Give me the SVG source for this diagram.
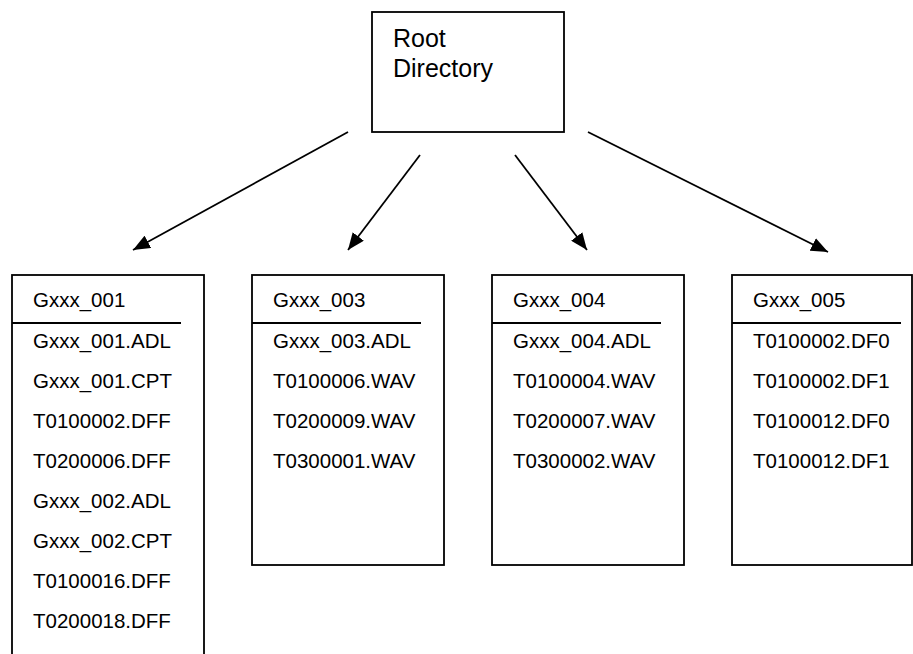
<svg xmlns="http://www.w3.org/2000/svg" width="913" height="654" viewBox="0 0 913 654">
<style>
text{font-family:"Liberation Sans",Arial,sans-serif;fill:#000}
.root{font-size:25px}
.t{font-size:20.5px}
.box{fill:#fff;stroke:#000;stroke-width:1.8}
.sep{stroke:#000;stroke-width:1.8}
.conn line{stroke:#000;stroke-width:1.8;marker-end:url(#ah)}
</style>
<defs>
<marker id="ah" markerUnits="userSpaceOnUse" markerWidth="18" markerHeight="14" refX="17" refY="7" orient="auto">
<path d="M0,0 L17,7 L0,14 z" fill="#000"/>
</marker>
</defs>
<rect width="913" height="654" fill="#fff"/>
<g id="root">
<rect class="box" x="372" y="12" width="192" height="120"/>
<text class="root" x="393" y="47">Root</text>
<text class="root" x="393" y="77">Directory</text>
</g>
<g class="conn" id="connectors">
<line x1="348" y1="132" x2="133" y2="250"/>
<line x1="420" y1="155" x2="348" y2="250"/>
<line x1="515" y1="155" x2="587" y2="250"/>
<line x1="588" y1="132" x2="828" y2="252"/>
</g>
<g id="g001">
<rect class="box" x="12" y="275" width="192" height="400"/>
<line class="sep" x1="12" y1="323" x2="181" y2="323"/>
<text class="t" x="33" y="307">Gxxx_001</text>
<text class="t" x="33" y="348">Gxxx_001.ADL</text>
<text class="t" x="33" y="388">Gxxx_001.CPT</text>
<text class="t" x="33" y="428">T0100002.DFF</text>
<text class="t" x="33" y="468">T0200006.DFF</text>
<text class="t" x="33" y="508">Gxxx_002.ADL</text>
<text class="t" x="33" y="548">Gxxx_002.CPT</text>
<text class="t" x="33" y="588">T0100016.DFF</text>
<text class="t" x="33" y="628">T0200018.DFF</text>
</g>
<g id="g003">
<rect class="box" x="252" y="275" width="192" height="290"/>
<line class="sep" x1="252" y1="323" x2="421" y2="323"/>
<text class="t" x="273" y="307">Gxxx_003</text>
<text class="t" x="273" y="348">Gxxx_003.ADL</text>
<text class="t" x="273" y="388">T0100006.WAV</text>
<text class="t" x="273" y="428">T0200009.WAV</text>
<text class="t" x="273" y="468">T0300001.WAV</text>
</g>
<g id="g004">
<rect class="box" x="492" y="275" width="192" height="290"/>
<line class="sep" x1="492" y1="323" x2="661" y2="323"/>
<text class="t" x="513" y="307">Gxxx_004</text>
<text class="t" x="513" y="348">Gxxx_004.ADL</text>
<text class="t" x="513" y="388">T0100004.WAV</text>
<text class="t" x="513" y="428">T0200007.WAV</text>
<text class="t" x="513" y="468">T0300002.WAV</text>
</g>
<g id="g005">
<rect class="box" x="732" y="275" width="180" height="290"/>
<line class="sep" x1="732" y1="323" x2="901" y2="323"/>
<text class="t" x="753" y="307">Gxxx_005</text>
<text class="t" x="753" y="348">T0100002.DF0</text>
<text class="t" x="753" y="388">T0100002.DF1</text>
<text class="t" x="753" y="428">T0100012.DF0</text>
<text class="t" x="753" y="468">T0100012.DF1</text>
</g>
</svg>
